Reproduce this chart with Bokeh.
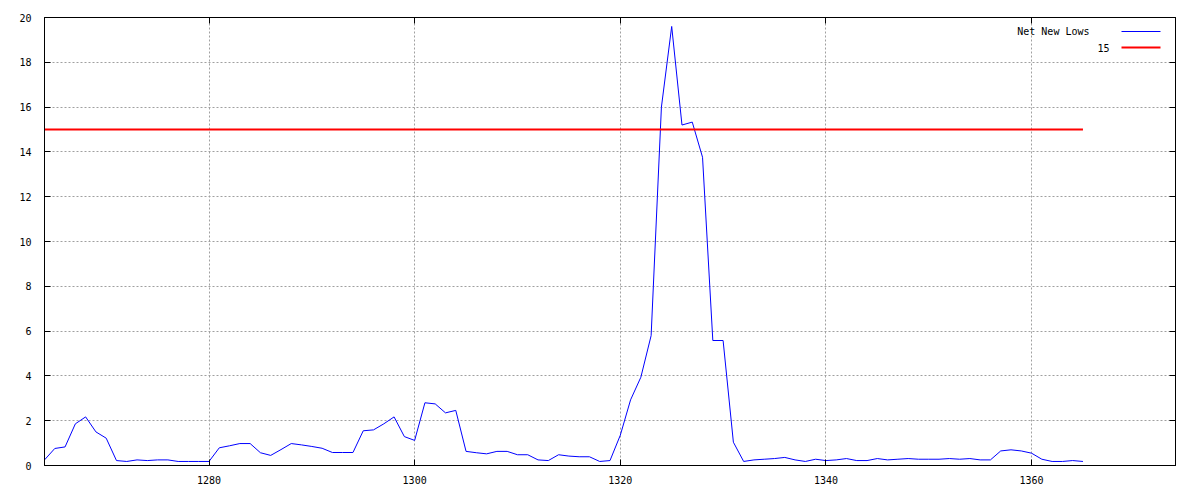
from bokeh.plotting import figure
from bokeh.models import Range1d, LinearAxis, FixedTicker, Label
from bokeh.embed import file_html
from bokeh.resources import INLINE

# ---- data ----
days = list(range(1264, 1366))
net_new_lows = [
    0.25, 0.76, 0.83, 1.86, 2.17, 1.50, 1.22, 0.22, 0.18, 0.25,
    0.22, 0.25, 0.25, 0.18, 0.18, 0.18, 0.18, 0.79, 0.88, 0.98,
    0.98, 0.57, 0.45, 0.71, 0.98, 0.92, 0.85, 0.77, 0.58, 0.58,
    0.58, 1.55, 1.59, 1.86, 2.17, 1.29, 1.12, 2.80, 2.75, 2.35,
    2.46, 0.63, 0.57, 0.52, 0.63, 0.63, 0.48, 0.48, 0.25, 0.22,
    0.48, 0.42, 0.39, 0.39, 0.18, 0.22, 1.35, 2.93, 3.94, 5.80,
    16.0, 19.6, 15.2, 15.33, 13.76, 5.58, 5.58, 1.04, 0.18, 0.25,
    0.28, 0.31, 0.36, 0.25, 0.18, 0.28, 0.22, 0.25, 0.31, 0.22,
    0.22, 0.31, 0.25, 0.28, 0.31, 0.28, 0.28, 0.28, 0.31, 0.28,
    0.31, 0.25, 0.25, 0.65, 0.70, 0.65, 0.55, 0.28, 0.18, 0.18,
    0.22, 0.18,
]
threshold_value = 15
threshold = [threshold_value] * len(days)
x_ticks = [1280, 1300, 1320, 1340, 1360]
y_ticks = [0, 2, 4, 6, 8, 10, 12, 14, 16, 18, 20]
x_start, x_end = 1264, 1374
y_start, y_end = 0, 20
series_label = "Net New Lows"
threshold_label = "15"

FONT = "DejaVu Sans Mono"
FS = "10px"

p = figure(width=1192, height=492, output_backend="svg", toolbar_location=None,
           x_range=Range1d(x_start, x_end), y_range=Range1d(y_start, y_end),
           min_border_left=44, min_border_right=17, min_border_top=17, min_border_bottom=27,
           x_axis_location="below", y_axis_location="left")
p.background_fill_color = "white"
p.border_fill_color = "white"
p.outline_line_color = "black"
p.outline_line_width = 1

def style_axis(ax, ticks, show_labels):
    ax.ticker = FixedTicker(ticks=ticks)
    ax.axis_line_color = "black"
    ax.major_tick_line_color = "black"
    ax.major_tick_in = 6
    ax.major_tick_out = 0
    ax.minor_tick_line_color = None
    ax.major_label_text_font = FONT
    ax.major_label_text_font_size = FS
    ax.major_label_text_color = "black"
    if not show_labels:
        ax.major_label_text_color = None
        ax.major_label_standoff = 0

style_axis(p.xaxis[0], x_ticks, True)
p.xaxis[0].major_label_standoff = 10
style_axis(p.yaxis[0], y_ticks, True)
p.yaxis[0].major_label_standoff = 13

top_ax = LinearAxis()
style_axis(top_ax, x_ticks, False)
p.add_layout(top_ax, "above")
right_ax = LinearAxis()
style_axis(right_ax, y_ticks, False)
p.add_layout(right_ax, "right")

p.xgrid.ticker = FixedTicker(ticks=x_ticks)
p.ygrid.ticker = FixedTicker(ticks=y_ticks)
for g in (p.xgrid[0], p.ygrid[0]):
    g.grid_line_color = "#a0a0a0"
    g.grid_line_dash = "2 2"
    g.grid_line_width = 1

p.line(days, net_new_lows, line_color="#0000ff", line_width=1)
p.line(days, threshold, line_color="#ff0000", line_width=2)

# gnuplot-style key (text right-aligned, sample to the right)
xs = (x_end - x_start) / 1131.0  # data units per pixel (approx)
ys = (y_end - y_start) / 448.0
key_line_x0 = x_end - 54 * xs
key_line_x1 = x_end - 15 * xs
row1_y = y_end - 14 * ys
row2_y = y_end - 30 * ys
p.add_layout(Label(x=x_end - 86 * xs, y=row1_y, text=series_label, text_align="right",
                   text_baseline="middle", text_font=FONT, text_font_size=FS,
                   text_color="black"))
p.add_layout(Label(x=x_end - 66 * xs, y=row2_y, text=threshold_label, text_align="right",
                   text_baseline="middle", text_font=FONT, text_font_size=FS,
                   text_color="black"))
p.segment(x0=[key_line_x0], y0=[row1_y], x1=[key_line_x1], y1=[row1_y],
          line_color="#0000ff", line_width=1)
p.segment(x0=[key_line_x0], y0=[row2_y], x1=[key_line_x1], y1=[row2_y],
          line_color="#ff0000", line_width=2)

open("out.html", "w").write(file_html(p, INLINE))
